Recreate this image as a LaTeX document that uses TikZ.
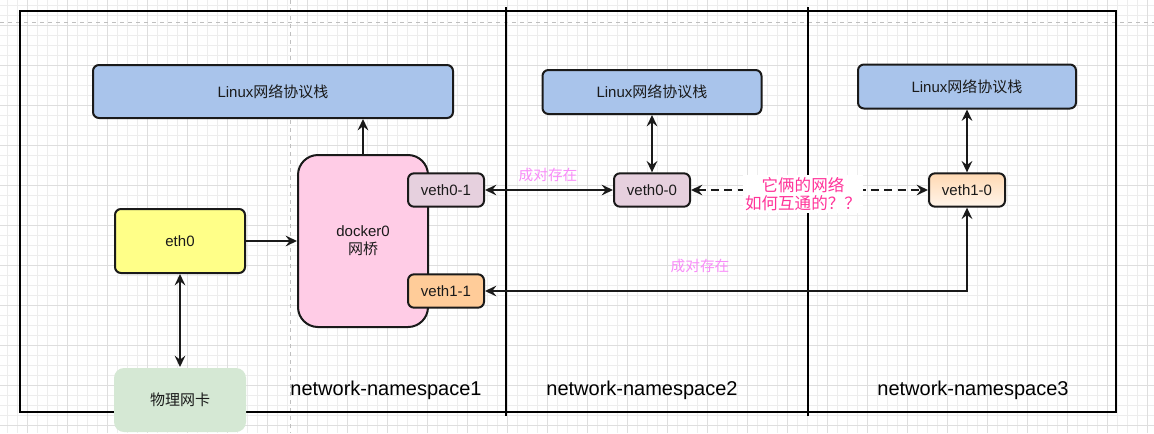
\documentclass[tikz,border=0pt]{standalone}
\usepackage{fontspec}
\setmainfont{Liberation Sans}
\newfontfamily\cjk{Noto Sans CJK SC}
\usepackage{tikz}
\usetikzlibrary{arrows.meta,positioning}
\definecolor{ink}{HTML}{1A1A1A}
\definecolor{stackblue}{HTML}{A9C4EB}
\definecolor{ethyellow}{HTML}{FFFF88}
\definecolor{bridgepink}{HTML}{FFCCE6}
\definecolor{vethmauve}{HTML}{E6D0DE}
\definecolor{vethorange}{HTML}{FFCC99}
\definecolor{nicgreen}{HTML}{D5E8D4}
\definecolor{askpink}{HTML}{FF3399}
\definecolor{pairpink}{HTML}{F98CF9}
\newcommand{\zh}[1]{{\cjk #1}}

\begin{document}
\begin{tikzpicture}[
  x=0.75pt,y=-0.75pt,
  gridmin/.style={draw=black!7,line width=0.5pt},
  gridmaj/.style={draw=black!13,line width=0.7pt},
  pagebrk/.style={draw=black!25,dashed,line width=0.6pt},
  frame/.style={draw=black,line width=1.8pt},
  box/.style={draw=ink,line width=1.5pt,rounded corners=4.5pt,inner sep=0pt,align=center,
    font=\fontsize{11.25}{13.5}\selectfont,text=ink},
  stackbox/.style={box,fill=stackblue,minimum height=33pt},
  vethbox/.style={box,fill=vethmauve,minimum width=57pt,minimum height=25pt},
  arr/.style={-{Stealth[length=8.5pt,width=8pt,inset=3pt]},line width=1.5pt,draw=ink},
  dbl/.style={{Stealth[length=8.5pt,width=8pt,inset=3pt]}-{Stealth[length=8.5pt,width=8pt,inset=3pt]},line width=1.5pt,draw=ink},
  dasharr/.style={dbl,dash pattern=on 6pt off 4pt},
  pairlbl/.style={font=\fontsize{11}{13}\selectfont,text=pairpink,inner sep=0pt},
  nslbl/.style={font=\fontsize{15}{18}\selectfont,text=black,inner sep=0pt}]
\useasboundingbox (0,0) rectangle (1154,433);
\fill[white] (0,0) rectangle (1154,433);
% background grid
\foreach \gx in {7,17,...,1153} \draw[gridmin] (\gx,0) -- (\gx,433);
\foreach \gy in {5,15,...,433} \draw[gridmin] (0,\gy) -- (1154,\gy);
\foreach \gx in {27,67,...,1153} \draw[gridmaj] (\gx,0) -- (\gx,433);
\foreach \gy in {25,65,...,433} \draw[gridmaj] (0,\gy) -- (1154,\gy);
\draw[pagebrk] (0,22) -- (1154,22);
\draw[pagebrk] (290,0) -- (290,433);
% namespaces
\draw[frame] (20,11) rectangle (1116,412);
\draw[frame] (506,7) -- (506,416);
\draw[frame] (808,7) -- (808,416);
% namespace 1
\node[stackbox,minimum width=270pt,minimum height=39.75pt] (stack1) at (273,91.5) {Linux\zh{网络协议栈}};
\node[box,fill=bridgepink,rounded corners=15pt,minimum width=97.5pt,minimum height=129pt] (docker) at (363,241) {docker0\\\zh{网桥}};
\node[vethbox] (veth01) at (446,190) {veth0-1};
\node[vethbox,fill=vethorange] (veth11) at (446,291) {veth1-1};
\node[box,fill=ethyellow,minimum width=97.5pt,minimum height=48pt] (eth0) at (180,241) {eth0};
\node[box,draw=none,fill=nicgreen,rounded corners=7.5pt,minimum width=99pt,minimum height=48pt] (nic) at (180,400) {\zh{物理网卡}};
% namespace 2
\node[stackbox,minimum width=164.25pt] (stack2) at (652,92) {Linux\zh{网络协议栈}};
\node[vethbox] (veth00) at (652,190) {veth0-0};
% namespace 3
\node[stackbox,minimum width=163.5pt] (stack3) at (967,86.5) {Linux\zh{网络协议栈}};
\node[vethbox,top color=vethorange!75,bottom color=vethorange!20] (veth10) at (967,190) {veth1-0};
% links
\draw[arr] (docker.north) -- (docker.north |- stack1.south);
\draw[arr] (eth0) -- (docker);
\draw[dbl] (eth0) -- (nic);
\draw[dbl] (veth01) -- (veth00);
\draw[dbl] (stack2) -- (veth00);
\draw[dbl] (stack3) -- (veth10);
\draw[dbl] (veth11.east) -| (veth10.south);
\draw[dasharr] (veth00) -- (veth10);
\node[align=center,fill=white,inner sep=1.5pt,text=askpink,font=\fontsize{12.4}{13.9}\selectfont] (ask) at (803,194) {\zh{它俩的网络}\\\zh{如何互通的？？}};
% labels
\node[pairlbl] (pair1) at (548,175) {\zh{成对存在}};
\node[pairlbl] (pair2) at (700,266) {\zh{成对存在}};
\node[nslbl] (ns1) at (386,390) {network-namespace1};
\node[nslbl] (ns2) at (642,390) {network-namespace2};
\node[nslbl] (ns3) at (973,390) {network-namespace3};
\end{tikzpicture}
\end{document}
